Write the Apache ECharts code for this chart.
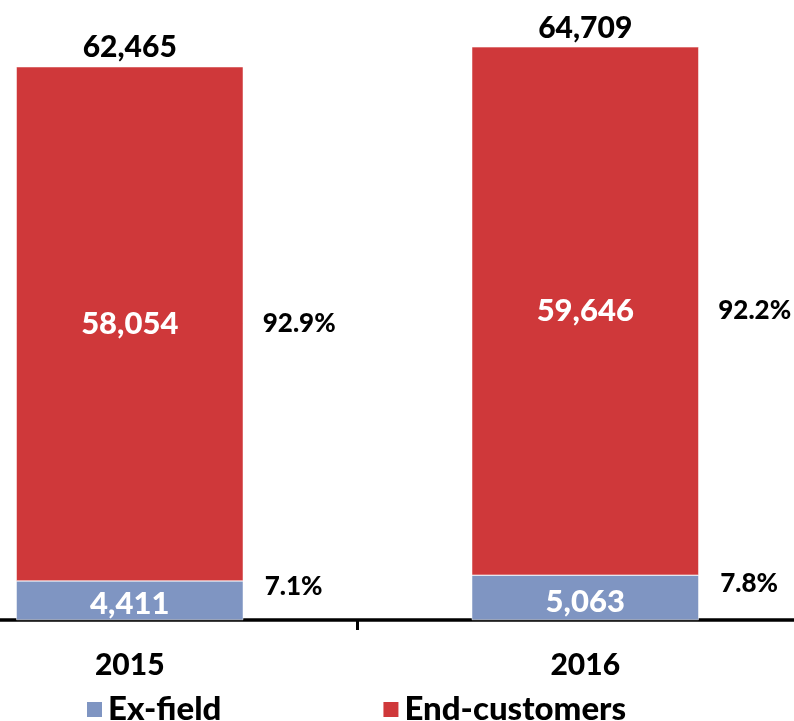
<!DOCTYPE html>
<html>
<head>
<meta charset="utf-8">
<title>Ex-field vs End-customers</title>
<script src="https://cdn.jsdelivr.net/npm/echarts@6/dist/echarts.min.js"></script>
<style>
  html, body { margin: 0; padding: 0; background: #fff; overflow: hidden; }
  /* the category band runs past both page edges, so the box is wider than the page */
  #chartBox { width: 911px; height: 721px; margin-left: -98px; }
</style>
</head>
<body>
<div id="chartBox"></div>
<script>
// data
var years = ['2015', '2016']
var exField = [4411, 5063]
var endCustomers = [58054, 59646]
var totals = [62465, 64709]

var RED = '#CF383A'
var BLUE = '#7F95C2'
var FONT = 'Lato'
var WEIGHT = 900

function fmt (v) {
  return Number(v).toLocaleString('en-US')
}
function pct (part, whole) {
  return (part / whole * 100).toFixed(1) + '%'
}

var chart = echarts.init(document.getElementById('chartBox'))

var option = {
  animation: false,
  textStyle: { fontFamily: FONT },
  grid: {
    left: 0,
    right: 0,
    top: 0,
    bottom: 101,
    containLabel: false
  },
  legend: {
    data: ['Ex-field', 'End-customers'],
    left: 178,
    top: 688,
    icon: 'rect',
    itemWidth: 17,
    itemHeight: 17,
    itemGap: 160,
    textStyle: {
      fontFamily: FONT,
      fontSize: 33,
      fontWeight: WEIGHT,
      color: '#000'
    }
  },
  xAxis: {
    type: 'category',
    data: years,
    axisLine: { lineStyle: { color: '#000', width: 3.5 } },
    axisTick: {
      show: true,
      alignWithLabel: false,
      length: 10,
      lineStyle: { color: '#000', width: 3 }
    },
    axisLabel: {
      margin: 30,
      fontFamily: FONT,
      fontSize: 30,
      fontWeight: WEIGHT,
      color: '#000'
    }
  },
  yAxis: {
    type: 'value',
    min: 0,
    max: 70000,
    show: false,
    splitLine: { show: false }
  },
  series: [
    {
      name: 'Ex-field',
      type: 'bar',
      stack: 'all',
      barWidth: 227,
      data: exField,
      itemStyle: { color: BLUE, borderColor: '#fff', borderWidth: 0.5 },
      label: {
        show: true,
        position: 'inside',
        offset: [0, 4],
        color: '#fff',
        fontFamily: FONT,
        fontSize: 31,
        fontWeight: WEIGHT,
        formatter: function (p) { return fmt(p.value) }
      }
    },
    {
      name: 'End-customers',
      type: 'bar',
      stack: 'all',
      barWidth: 227,
      data: endCustomers,
      itemStyle: { color: RED, borderColor: '#fff', borderWidth: 0.5 },
      label: {
        show: true,
        position: 'inside',
        color: '#fff',
        fontFamily: FONT,
        fontSize: 31,
        fontWeight: WEIGHT,
        formatter: function (p) { return fmt(p.value) }
      }
    },
    {
      // zero-height bar on top of the stack, only carries the total label
      name: 'Total',
      type: 'bar',
      stack: 'all',
      barWidth: 227,
      data: years.map(function () { return 0 }),
      itemStyle: { color: 'transparent' },
      label: {
        show: true,
        position: 'top',
        distance: 4,
        color: '#000',
        fontFamily: FONT,
        fontSize: 30,
        fontWeight: WEIGHT,
        formatter: function (p) { return fmt(totals[p.dataIndex]) }
      }
    },
    {
      // share labels to the right of each segment
      name: 'exShare',
      type: 'scatter',
      symbolSize: 0,
      itemStyle: { opacity: 1 },
      data: exField.map(function (v) { return v / 2 }),
      label: {
        show: true,
        position: 'right',
        distance: 135,
        offset: [0, -14],
        color: '#000',
        fontFamily: FONT,
        fontSize: 26,
        fontWeight: WEIGHT,
        formatter: function (p) { return pct(exField[p.dataIndex], totals[p.dataIndex]) }
      }
    },
    {
      name: 'endShare',
      type: 'scatter',
      symbolSize: 0,
      itemStyle: { opacity: 1 },
      data: endCustomers.map(function (v, i) { return exField[i] + v / 2 }),
      label: {
        show: true,
        position: 'right',
        distance: 133,
        color: '#000',
        fontFamily: FONT,
        fontSize: 26,
        fontWeight: WEIGHT,
        formatter: function (p) { return pct(endCustomers[p.dataIndex], totals[p.dataIndex]) }
      }
    }
  ]
}

chart.setOption(option)
</script>
</body>
</html>
